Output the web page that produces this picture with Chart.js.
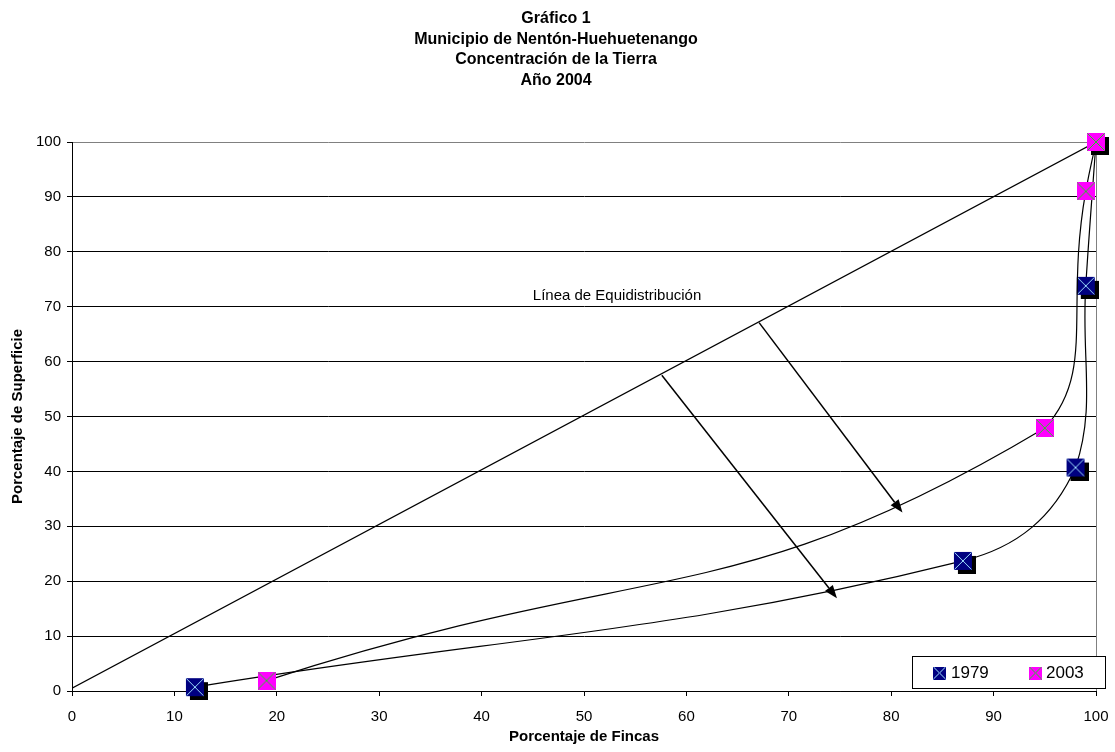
<!DOCTYPE html>
<html>
<head>
<meta charset="utf-8">
<script src="https://cdn.jsdelivr.net/npm/chart.js@4/dist/chart.umd.min.js"></script>
<style>
  html, body { margin: 0; padding: 0; background: #fff; }
  #wrap { width: 1115px; height: 752px; }
</style>
</head>
<body>
<div id="wrap"><canvas id="chart" width="1115" height="752"></canvas></div>
<script>
// ====== DATA ======
const TITLE_LINES = ["Gráfico 1", "Municipio de Nentón-Huehuetenango", "Concentración de la Tierra", "Año 2004"];
const X_TITLE = "Porcentaje de Fincas";
const Y_TITLE = "Porcentaje de Superficie";
const X_TICKS = [0, 10, 20, 30, 40, 50, 60, 70, 80, 90, 100];
const Y_TICKS = [0, 10, 20, 30, 40, 50, 60, 70, 80, 90, 100];

// % fincas / % superficie
const FINCAS_1979 = [12, 87, 98, 99, 100];
const SUPERF_1979 = [0.7, 23.7, 40.7, 73.8, 100];
const FINCAS_2003 = [19, 95, 99, 100];
const SUPERF_2003 = [1.9, 47.9, 91, 100];

const EQUI_X = [0, 100];
const EQUI_Y = [0.5, 100];
const EQUI_LABEL = "Línea de Equidistribución";
const EQUI_LABEL_AT = [45, 71.9];

// arrows: [x1, y1, x2, y2]
const ARROWS = [
  [67.1, 67.1, 81.1, 32.5],
  [57.6, 57.5, 74.7, 16.9]
];

const toPts = (xs, ys) => xs.map((x, i) => ({ x, y: ys[i] }));

function makeMarker(fill, cross, size, shadow) {
  const off = shadow ? 4 : 0;
  const c = document.createElement("canvas");
  const full = size + off * 2;
  c.width = full; c.height = full;
  const g = c.getContext("2d");
  const s = off;
  if (shadow) {
    g.fillStyle = "#000";
    g.fillRect(s + off, s + off, size, size);
  }
  g.fillStyle = fill;
  g.fillRect(s, s, size, size);
  g.strokeStyle = cross;
  g.lineWidth = 1;
  g.beginPath();
  g.moveTo(s + 0.5, s + 0.5); g.lineTo(s + size - 0.5, s + size - 0.5);
  g.moveTo(s + size - 0.5, s + 0.5); g.lineTo(s + 0.5, s + size - 0.5);
  g.stroke();
  return c;
}

const mark1979 = makeMarker("#000080", "#9fe0ff", 18, true);
const mark2003 = makeMarker("#ff00ff", "#22cc22", 18, false);
const leg1979 = makeMarker("#000080", "#9fe0ff", 13, false);
const leg2003 = makeMarker("#ff00ff", "#22cc22", 13, false);

const FONT = "'Liberation Sans', Arial, sans-serif";
Chart.defaults.font.family = FONT;
Chart.defaults.color = "#000";

const extras = {
  id: "extras",
  afterDatasetsDraw(chart) {
    const { ctx, scales: { x, y } } = chart;
    ctx.save();
    // equidistribution label
    ctx.font = "15px " + FONT;
    ctx.fillStyle = "#000";
    ctx.textAlign = "left";
    ctx.textBaseline = "middle";
    ctx.fillText(EQUI_LABEL, x.getPixelForValue(EQUI_LABEL_AT[0]), y.getPixelForValue(EQUI_LABEL_AT[1]));

    // arrows
    ctx.strokeStyle = "#000";
    ctx.fillStyle = "#000";
    ctx.lineWidth = 1.5;
    ARROWS.forEach(([a, b, c, d]) => {
      const x1 = x.getPixelForValue(a), y1 = y.getPixelForValue(b);
      const x2 = x.getPixelForValue(c), y2 = y.getPixelForValue(d);
      const ang = Math.atan2(y2 - y1, x2 - x1);
      const hl = 13, hw = 5;
      const bx = x2 - hl * Math.cos(ang), by = y2 - hl * Math.sin(ang);
      ctx.beginPath();
      ctx.moveTo(x1, y1);
      ctx.lineTo(bx, by);
      ctx.stroke();
      ctx.beginPath();
      ctx.moveTo(x2, y2);
      ctx.lineTo(bx + hw * Math.sin(ang), by - hw * Math.cos(ang));
      ctx.lineTo(bx - hw * Math.sin(ang), by + hw * Math.cos(ang));
      ctx.closePath();
      ctx.fill();
    });
    ctx.restore();
  },
  afterDraw(chart) {
    const { ctx, chartArea: ca } = chart;
    const left = ca.right - 184, top = ca.bottom - 35, w = 193, h = 32;
    ctx.save();
    ctx.fillStyle = "#fff";
    ctx.fillRect(left, top, w, h);
    ctx.strokeStyle = "#000";
    ctx.lineWidth = 1;
    ctx.strokeRect(left + 0.5, top + 0.5, w, h);
    const cy = top + 17;
    ctx.drawImage(leg1979, left + 21, cy - 6.5);
    ctx.drawImage(leg2003, left + 117, cy - 6.5);
    ctx.font = "17px " + FONT;
    ctx.fillStyle = "#000";
    ctx.textBaseline = "middle";
    ctx.fillText(chart.data.datasets[0].label, left + 39, cy);
    ctx.fillText(chart.data.datasets[1].label, left + 134, cy);
    ctx.restore();
  }
};

new Chart(document.getElementById("chart"), {
  type: "scatter",
  data: {
    datasets: [
      {
        label: "1979",
        data: toPts(FINCAS_1979, SUPERF_1979),
        showLine: true,
        borderColor: "#000",
        borderWidth: 1.2,
        tension: 0.4,
        pointStyle: mark1979,
        pointRadius: 9,
        clip: false,
        order: 1
      },
      {
        label: "2003",
        data: toPts(FINCAS_2003, SUPERF_2003),
        showLine: true,
        borderColor: "#000",
        borderWidth: 1.2,
        tension: 0.5,
        pointStyle: mark2003,
        pointRadius: 9,
        clip: false,
        order: 0
      },
      {
        label: "Equi",
        data: toPts(EQUI_X, EQUI_Y),
        showLine: true,
        borderColor: "#000",
        borderWidth: 1.2,
        pointRadius: 0,
        order: 2
      }
    ]
  },
  options: {
    responsive: false,
    animation: false,
    layout: { padding: { left: 8, right: 11, top: 0, bottom: 0 } },
    plugins: {
      legend: { display: false },
      tooltip: { enabled: false },
      title: {
        display: true,
        text: TITLE_LINES,
        color: "#000",
        font: { size: 16, weight: "bold", lineHeight: 1.3 },
        padding: { top: 8, bottom: 50.8 }
      }
    },
    scales: {
      x: {
        type: "linear",
        min: 0, max: 100,
        afterBuildTicks: (s) => { s.ticks = X_TICKS.map(v => ({ value: v })); },
        afterFit: (s) => { s.height = 61; s.paddingLeft = 0; s.paddingRight = 19; },
        ticks: { font: { size: 15 }, color: "#000", padding: 12 },
        grid: {
          color: (c) => (c.tick && c.tick.value === 100 ? "#808080" : "rgba(0,0,0,0)"),
          tickColor: "#000",
          tickLength: 5
        },
        border: { color: "#000", width: 1 },
        title: { display: true, text: X_TITLE, font: { size: 15, weight: "bold" }, padding: { top: 0, bottom: 6 } }
      },
      y: {
        type: "linear",
        min: 0, max: 100,
        afterBuildTicks: (s) => { s.ticks = Y_TICKS.map(v => ({ value: v })); },
        afterFit: (s) => { s.width = 64; },
        ticks: { font: { size: 15 }, color: "#000", padding: 6 },
        grid: {
          color: (c) => (c.tick && c.tick.value === 100 ? "#808080" : "#000"),
          tickColor: "#000",
          tickLength: 5
        },
        border: { color: "#000", width: 1 },
        title: { display: true, text: Y_TITLE, font: { size: 15, weight: "bold" }, padding: { top: 1, bottom: 0 } }
      }
    }
  },
  plugins: [extras]
});
</script>
</body>
</html>
